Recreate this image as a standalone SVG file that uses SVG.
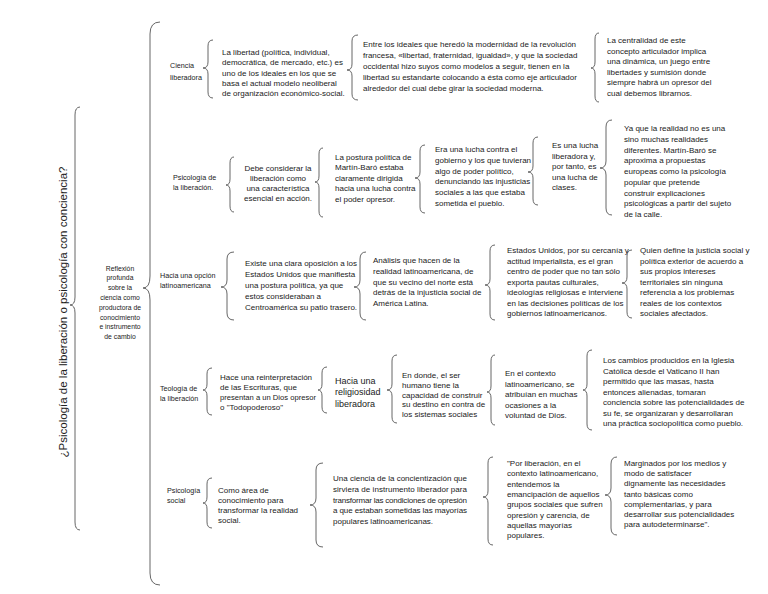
<svg xmlns="http://www.w3.org/2000/svg" width="768" height="594" viewBox="0 0 768 594">
<style>
text{font-family:"Liberation Sans",Arial,sans-serif;fill:#1a1a1a;font-size:8px}
.lab{font-size:7.2px}
.sm{font-size:6.8px}
.big{font-size:9px}
.title{font-size:11.5px;fill:#222}
.brace{fill:none;stroke:#555;stroke-width:0.9}
</style>
<rect width="768" height="594" fill="#fff"/>
<g id="connectors">
<path class="brace" d="M80 107 Q75 107 75 115 L75 297 Q75 305 70 305 Q75 305 75 313 L75 522 Q75 530 80 530"/>
<path class="brace" d="M160 22 Q150 22 150 34 L150 276 Q150 288 143 288 Q150 288 150 300 L150 573 Q150 585 160 585"/>
<path class="brace" d="M213 40 Q208 40 208 46 L208 62 Q208 68 203 68 Q208 68 208 74 L208 92 Q208 98 213 98"/>
<path class="brace" d="M358 35 Q352 35 352 41 L352 64 Q352 70 347 70 Q352 70 352 76 L352 94 Q352 100 358 100"/>
<path class="brace" d="M599 33 Q595 33 595 39 L595 62 Q595 68 591 68 Q595 68 595 74 L595 96 Q595 102 599 102"/>
<path class="brace" d="M234 157 Q230 157 230 163 L230 179 Q230 185 226 185 Q230 185 230 191 L230 206 Q230 212 234 212"/>
<path class="brace" d="M323 148 Q319 148 319 154 L319 176 Q319 182 315 182 Q319 182 319 188 L319 211 Q319 217 323 217"/>
<path class="brace" d="M425 145 Q420 145 420 151 L420 172 Q420 178 415 178 Q420 178 420 184 L420 207 Q420 213 425 213"/>
<path class="brace" d="M538 137 Q533 137 533 143 L533 166 Q533 172 528 172 Q533 172 533 178 L533 199 Q533 205 538 205"/>
<path class="brace" d="M612 120 Q606 120 606 127 L606 161 Q606 168 600 168 Q606 168 606 175 L606 208 Q606 215 612 215"/>
<path class="brace" d="M234 252 Q227 252 227 259 L227 280 Q227 287 221 287 Q227 287 227 294 L227 313 Q227 320 234 320"/>
<path class="brace" d="M366 252 Q360 252 360 259 L360 280 Q360 287 354 287 Q360 287 360 294 L360 313 Q360 320 366 320"/>
<path class="brace" d="M495 245 Q490 245 490 251 L490 279 Q490 285 485 285 Q490 285 490 291 L490 314 Q490 320 495 320"/>
<path class="brace" d="M632 250 Q627 250 627 256 L627 277 Q627 283 622 283 Q627 283 627 289 L627 312 Q627 318 632 318"/>
<path class="brace" d="M212 368 Q207 368 207 374 L207 384 Q207 390 203 390 Q207 390 207 396 L207 409 Q207 415 212 415"/>
<path class="brace" d="M327 367 Q322 367 322 373 L322 384 Q322 390 318 390 Q322 390 322 396 L322 407 Q322 413 327 413"/>
<path class="brace" d="M397 355 Q392 355 392 361 L392 384 Q392 390 387 390 Q392 390 392 396 L392 417 Q392 423 397 423"/>
<path class="brace" d="M495 355 Q491 355 491 361 L491 386 Q491 392 487 392 Q491 392 491 398 L491 419 Q491 425 495 425"/>
<path class="brace" d="M592 350 Q587 350 587 356 L587 384 Q587 390 583 390 Q587 390 587 396 L587 424 Q587 430 592 430"/>
<path class="brace" d="M212 478 Q207 478 207 484 L207 497 Q207 503 203 503 Q207 503 207 509 L207 522 Q207 528 212 528"/>
<path class="brace" d="M323 463 Q316 463 316 470 L316 498 Q316 505 310 505 Q316 505 316 512 L316 540 Q316 547 323 547"/>
<path class="brace" d="M493 457 Q488 457 488 463 L488 491 Q488 497 483 497 Q488 497 488 503 L488 539 Q488 545 493 545"/>
<path class="brace" d="M617 457 Q611 457 611 464 L611 488 Q611 495 605 495 Q611 495 611 502 L611 528 Q611 535 617 535"/>
</g>

<g id="title">
<text class="title" transform="translate(67,312) rotate(-90)" text-anchor="middle">¿Psicología de la liberación o psicología con conciencia?</text>
</g>
<g id="reflexion">
<text class="sm" text-anchor="middle"><tspan x="120" y="270.5">Reflexión</tspan><tspan x="120" y="280.3">profunda</tspan><tspan x="120" y="290.1">sobre la</tspan><tspan x="120" y="299.9">ciencia como</tspan><tspan x="120" y="309.7">productora de</tspan><tspan x="120" y="319.5">conocimiento</tspan><tspan x="120" y="329.3">e instrumento</tspan><tspan x="120" y="339.1">de cambio</tspan></text>
</g>

<g id="ciencia-liberadora">
<text class="lab"><tspan x="170" y="68">Ciencia</tspan><tspan x="170" y="80">liberadora</tspan></text>
</g>
<g id="cl-1">
<text><tspan x="222" y="55">La libertad (política, individual,</tspan><tspan x="222" y="65.3">democrática, de mercado, etc.) es</tspan><tspan x="222" y="75.6">uno de los ideales en los que se</tspan><tspan x="222" y="85.9">basa el actual modelo neoliberal</tspan><tspan x="222" y="96.2">de organización económico-social.</tspan></text>
</g>
<g id="cl-2">
<text><tspan x="363" y="47">Entre los ideales que heredó la modernidad de la revolución</tspan><tspan x="363" y="58">francesa, «libertad, fraternidad, igualdad», y que la sociedad</tspan><tspan x="363" y="69">occidental hizo suyos como modelos a seguir, tienen en la</tspan><tspan x="363" y="80">libertad su estandarte colocando a ésta como eje articulador</tspan><tspan x="363" y="91">alrededor del cual debe girar la sociedad moderna.</tspan></text>
</g>
<g id="cl-3">
<text><tspan x="607" y="43">La centralidad de este</tspan><tspan x="607" y="53.6">concepto articulador implica</tspan><tspan x="607" y="64.2">una dinámica, un juego entre</tspan><tspan x="607" y="74.8">libertades y sumisión donde</tspan><tspan x="607" y="85.4">siempre habrá un opresor del</tspan><tspan x="607" y="96">cual debemos librarnos.</tspan></text>
</g>

<g id="psicologia-liberacion">
<text class="lab"><tspan x="173" y="180">Psicología de</tspan><tspan x="173" y="190">la liberación.</tspan></text>
</g>
<g id="pl-1">
<text text-anchor="middle"><tspan x="278" y="171">Debe considerar la</tspan><tspan x="278" y="181">liberación como</tspan><tspan x="278" y="191">una característica</tspan><tspan x="278" y="201">esencial en acción.</tspan></text>
</g>
<g id="pl-2">
<text><tspan x="335" y="160">La postura política de</tspan><tspan x="335" y="170.4">Martín-Baró estaba</tspan><tspan x="335" y="180.8">claramente dirigida</tspan><tspan x="335" y="191.2">hacia una lucha contra</tspan><tspan x="335" y="201.6">el poder opresor.</tspan></text>
</g>
<g id="pl-3">
<text><tspan x="435" y="152">Era una lucha contra el</tspan><tspan x="435" y="162.8">gobierno y los que tuvieran</tspan><tspan x="435" y="173.6">algo de poder político,</tspan><tspan x="435" y="184.4">denunciando las injusticias</tspan><tspan x="435" y="195.2">sociales a las que estaba</tspan><tspan x="435" y="206">sometida el pueblo.</tspan></text>
</g>
<g id="pl-4">
<text><tspan x="552" y="148">Es una lucha</tspan><tspan x="552" y="158.5">liberadora y,</tspan><tspan x="552" y="169">por tanto, es</tspan><tspan x="552" y="179.5">una lucha de</tspan><tspan x="552" y="190">clases.</tspan></text>
</g>
<g id="pl-5">
<text><tspan x="624" y="131">Ya que la realidad no es una</tspan><tspan x="624" y="141.75">sino muchas realidades</tspan><tspan x="624" y="152.5">diferentes. Martín-Baró se</tspan><tspan x="624" y="163.25">aproxima a propuestas</tspan><tspan x="624" y="174">europeas como la psicología</tspan><tspan x="624" y="184.75">popular que pretende</tspan><tspan x="624" y="195.5">construir explicaciones</tspan><tspan x="624" y="206.25">psicológicas a partir del sujeto</tspan><tspan x="624" y="217">de la calle.</tspan></text>
</g>

<g id="opcion-latinoamericana">
<text class="lab"><tspan x="160" y="278">Hacia una opción</tspan><tspan x="160" y="288">latinoamericana</tspan></text>
</g>
<g id="ol-1">
<text><tspan x="245" y="266">Existe una clara oposición a los</tspan><tspan x="245" y="277">Estados Unidos que manifiesta</tspan><tspan x="245" y="288">una postura política, ya que</tspan><tspan x="245" y="299">estos consideraban a</tspan><tspan x="245" y="310">Centroamérica su patio trasero.</tspan></text>
</g>
<g id="ol-2">
<text><tspan x="373" y="263">Análisis que hacen de la</tspan><tspan x="373" y="273.75">realidad latinoamericana, de</tspan><tspan x="373" y="284.5">que su vecino del norte está</tspan><tspan x="373" y="295.25">detrás de la injusticia social de</tspan><tspan x="373" y="306">América Latina.</tspan></text>
</g>
<g id="ol-3">
<text><tspan x="507" y="253">Estados Unidos, por su cercanía y</tspan><tspan x="507" y="263.5">actitud imperialista, es el gran</tspan><tspan x="507" y="274">centro de poder que no tan sólo</tspan><tspan x="507" y="284.5">exporta pautas culturales,</tspan><tspan x="507" y="295">ideologías religiosas e interviene</tspan><tspan x="507" y="305.5">en las decisiones políticas de los</tspan><tspan x="507" y="316">gobiernos latinoamericanos.</tspan></text>
</g>
<g id="ol-4">
<text><tspan x="640" y="253">Quien define la justicia social y</tspan><tspan x="640" y="263.5">política exterior de acuerdo a</tspan><tspan x="640" y="274">sus propios intereses</tspan><tspan x="640" y="284.5">territoriales sin ninguna</tspan><tspan x="640" y="295">referencia a los problemas</tspan><tspan x="640" y="305.5">reales de los contextos</tspan><tspan x="640" y="316">sociales afectados.</tspan></text>
</g>

<g id="teologia-liberacion">
<text class="lab"><tspan x="160" y="391">Teología de</tspan><tspan x="160" y="401">la liberación</tspan></text>
</g>
<g id="tl-1">
<text><tspan x="220" y="380">Hace una reinterpretación</tspan><tspan x="220" y="390">de las Escrituras, que</tspan><tspan x="220" y="400" textLength="96" lengthAdjust="spacingAndGlyphs">presentan a un Dios opresor</tspan><tspan x="220" y="410">o "Todopoderoso"</tspan></text>
</g>
<g id="tl-2">
<text class="big"><tspan x="335" y="383.5">Hacia una</tspan><tspan x="335" y="395">religiosidad</tspan><tspan x="335" y="406.5">liberadora</tspan></text>
</g>
<g id="tl-3">
<text><tspan x="402" y="378">En donde, el ser</tspan><tspan x="402" y="387.8">humano tiene la</tspan><tspan x="402" y="397.6">capacidad de construir</tspan><tspan x="402" y="407.4">su destino en contra de</tspan><tspan x="402" y="417.2">los sistemas sociales</tspan></text>
</g>
<g id="tl-4">
<text><tspan x="505" y="376">En el contexto</tspan><tspan x="505" y="386.5">latinoamericano, se</tspan><tspan x="505" y="397">atribuían en muchas</tspan><tspan x="505" y="407.5">ocasiones a la</tspan><tspan x="505" y="418">voluntad de Dios.</tspan></text>
</g>
<g id="tl-5">
<text><tspan x="603" y="363">Los cambios producidos en la Iglesia</tspan><tspan x="603" y="373.5">Católica desde el Vaticano II han</tspan><tspan x="603" y="384">permitido que las masas, hasta</tspan><tspan x="603" y="394.5">entonces alienadas, tomaran</tspan><tspan x="603" y="405">conciencia sobre las potencialidades de</tspan><tspan x="603" y="415.5">su fe, se organizaran y desarrollaran</tspan><tspan x="603" y="426">una práctica sociopolítica como pueblo.</tspan></text>
</g>

<g id="psicologia-social">
<text class="lab"><tspan x="167" y="493">Psicología</tspan><tspan x="167" y="503">social</tspan></text>
</g>
<g id="ps-1">
<text><tspan x="218" y="493">Como área de</tspan><tspan x="218" y="503">conocimiento para</tspan><tspan x="218" y="513">transformar la realidad</tspan><tspan x="218" y="523">social.</tspan></text>
</g>
<g id="ps-2">
<text x="333" y="481" textLength="134" lengthAdjust="spacing">Una ciencia de la concientización que</text>
<text x="333" y="491.75" textLength="134" lengthAdjust="spacing">sirviera de instrumento liberador para</text>
<text x="333" y="502.5" textLength="134" lengthAdjust="spacing">transformar las condiciones de opresión</text>
<text x="333" y="513.25" textLength="134" lengthAdjust="spacing">a que estaban sometidas las mayorías</text>
<text x="333" y="524">populares latinoamericanas.</text>
</g>
<g id="ps-3">
<text><tspan x="507" y="466">"Por liberación, en el</tspan><tspan x="507" y="476.3">contexto latinoamericano,</tspan><tspan x="507" y="486.6">entendemos la</tspan><tspan x="507" y="496.9">emancipación de aquellos</tspan><tspan x="507" y="507.2">grupos sociales que sufren</tspan><tspan x="507" y="517.5">opresión y carencia, de</tspan><tspan x="507" y="527.8">aquellas mayorías</tspan><tspan x="507" y="538.1">populares.</tspan></text>
</g>
<g id="ps-4">
<text><tspan x="624" y="466">Marginados por los medios y</tspan><tspan x="624" y="476.2">modo de satisfacer</tspan><tspan x="624" y="486.4">dignamente las necesidades</tspan><tspan x="624" y="496.6">tanto básicas como</tspan><tspan x="624" y="506.8">complementarias, y para</tspan><tspan x="624" y="517">desarrollar sus potencialidades</tspan><tspan x="624" y="527.2">para autodeterminarse".</tspan></text>
</g>
</svg>
